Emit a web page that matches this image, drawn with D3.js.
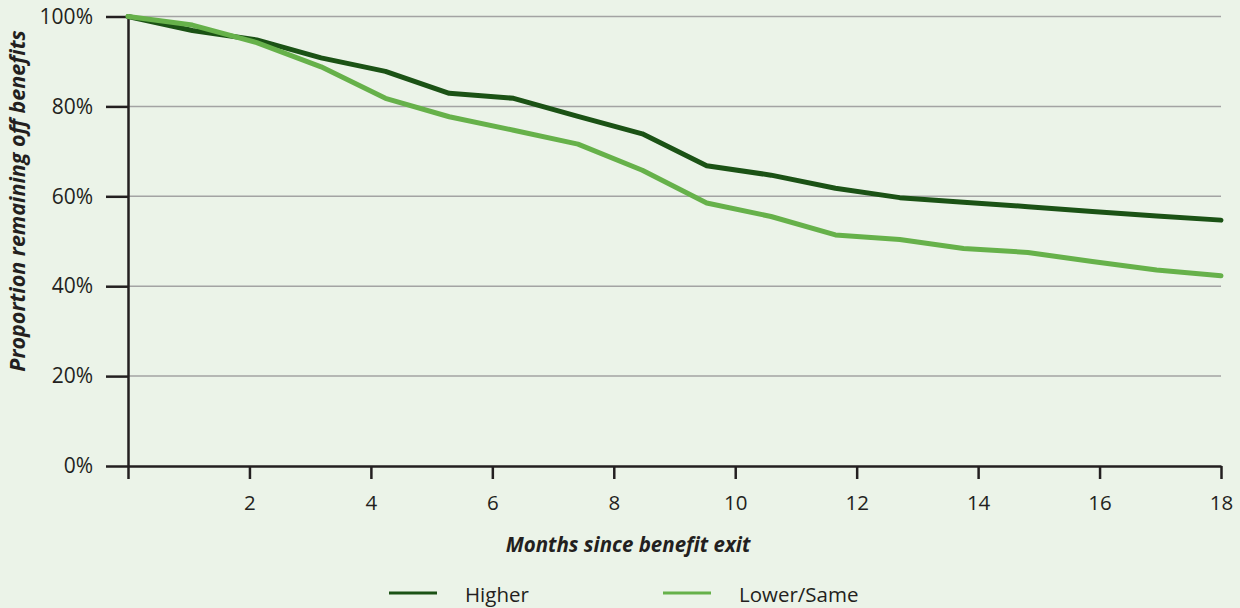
<!DOCTYPE html>
<html>
<head>
<meta charset="utf-8">
<script src="https://cdn.jsdelivr.net/npm/d3@7"></script>
<style>
  html, body { margin: 0; padding: 0; background: #ebf3e8; }
  svg { display: block; }
  text { font-family: "Open Sans", "DejaVu Sans", sans-serif; fill: #231f20; }
</style>
</head>
<body>
<svg id="chart" width="1240" height="608"></svg>
<script>
// Months since exit for each observation (18 observations across the 0–18 month range)
const months = [0, 1.06, 2.12, 3.18, 4.24, 5.29, 6.35, 7.41, 8.47, 9.53, 10.59, 11.65, 12.71, 13.76, 14.82, 15.88, 16.94, 18];

// Proportion remaining off benefits (%), by earnings group
const higher = [100, 96.9, 94.8, 90.8, 87.8, 82.9, 81.8, 77.8, 73.9, 66.8, 64.7, 61.8, 59.7, 58.7, 57.7, 56.6, 55.6, 54.7];
const lowerSame = [100, 98.1, 94.2, 88.8, 81.8, 77.7, 74.7, 71.6, 65.8, 58.5, 55.5, 51.4, 50.4, 48.4, 47.5, 45.5, 43.6, 42.3];

const seriesNames = ["Higher", "Lower/Same"];
const seriesColors = ["#1b5215", "#66b14a"];

const xTicks = [0, 2, 4, 6, 8, 10, 12, 14, 16, 18];
const yTicks = [0, 20, 40, 60, 80, 100];

const xTitle = "Months since benefit exit";
const yTitle = "Proportion remaining off benefits";

const svg = d3.select("#chart");

const plot = { left: 128, right: 1221, top: 16.5, bottom: 466 };

const x = d3.scaleLinear().domain([0, 18]).range([plot.left, plot.right]);
const y = d3.scaleLinear().domain([0, 100]).range([plot.bottom, plot.top]);

// Horizontal gridlines
svg.append("g")
  .selectAll("line")
  .data(yTicks.filter(d => d > 0))
  .join("line")
  .attr("x1", plot.left).attr("x2", plot.right)
  .attr("y1", d => y(d)).attr("y2", d => y(d))
  .attr("stroke", "#a3a3a3")
  .attr("stroke-width", 1.5);

// Y axis
const yAxis = svg.append("g")
  .attr("transform", `translate(${plot.left},0)`)
  .call(d3.axisLeft(y).tickValues(yTicks).tickFormat(d => d + "%").tickSize(22).tickPadding(13).tickSizeOuter(0));
yAxis.select(".domain").attr("stroke", "#231f20").attr("stroke-width", 2.5);
yAxis.selectAll(".tick line").attr("stroke", "#231f20").attr("stroke-width", 2.5);
yAxis.selectAll(".tick text")
  .style("font-family", '"Open Sans", sans-serif')
  .style("font-size", "21px")
  .attr("fill", "#2b2b2b");

// X axis
const xAxis = svg.append("g")
  .attr("transform", `translate(0,${plot.bottom})`)
  .call(d3.axisBottom(x).tickValues(xTicks).tickFormat(d => d === 0 ? "" : d).tickSize(13).tickPadding(16).tickSizeOuter(0));
xAxis.select(".domain").attr("stroke", "#231f20").attr("stroke-width", 2.5);
xAxis.selectAll(".tick line").attr("stroke", "#231f20").attr("stroke-width", 2.5);
xAxis.selectAll(".tick text")
  .style("font-family", '"Open Sans", sans-serif')
  .style("font-size", "20.5px")
  .attr("fill", "#2b2b2b");

// Axis titles
svg.append("text")
  .attr("x", 628)
  .attr("y", 552)
  .attr("text-anchor", "middle")
  .style("font-size", "20.5px")
  .style("font-weight", "bold")
  .style("font-style", "italic")
  .text(xTitle);

svg.append("text")
  .attr("transform", "translate(25,201) rotate(-90)")
  .attr("text-anchor", "middle")
  .style("font-size", "21.5px")
  .style("font-weight", "bold")
  .style("font-style", "italic")
  .text(yTitle);

// Survival lines
const line = d3.line()
  .x((d, i) => x(months[i]))
  .y(d => y(d));

[higher, lowerSame].forEach((values, k) => {
  svg.append("path")
    .datum(values)
    .attr("d", line)
    .attr("fill", "none")
    .attr("stroke", seriesColors[k])
    .attr("stroke-width", 5)
    .attr("stroke-linejoin", "round")
    .attr("stroke-linecap", "round");
});

// Legend
const legendItems = [
  { name: seriesNames[0], color: seriesColors[0], x0: 389 },
  { name: seriesNames[1], color: seriesColors[1], x0: 663 }
];
const legend = svg.append("g");
legendItems.forEach(item => {
  legend.append("line")
    .attr("x1", item.x0).attr("x2", item.x0 + 48)
    .attr("y1", 593).attr("y2", 593)
    .attr("stroke", item.color)
    .attr("stroke-width", 3);
  legend.append("text")
    .attr("x", item.x0 + 76)
    .attr("y", 602)
    .style("font-size", "20.5px")
    .attr("fill", "#2b2b2b")
    .text(item.name);
});
</script>
</body>
</html>
